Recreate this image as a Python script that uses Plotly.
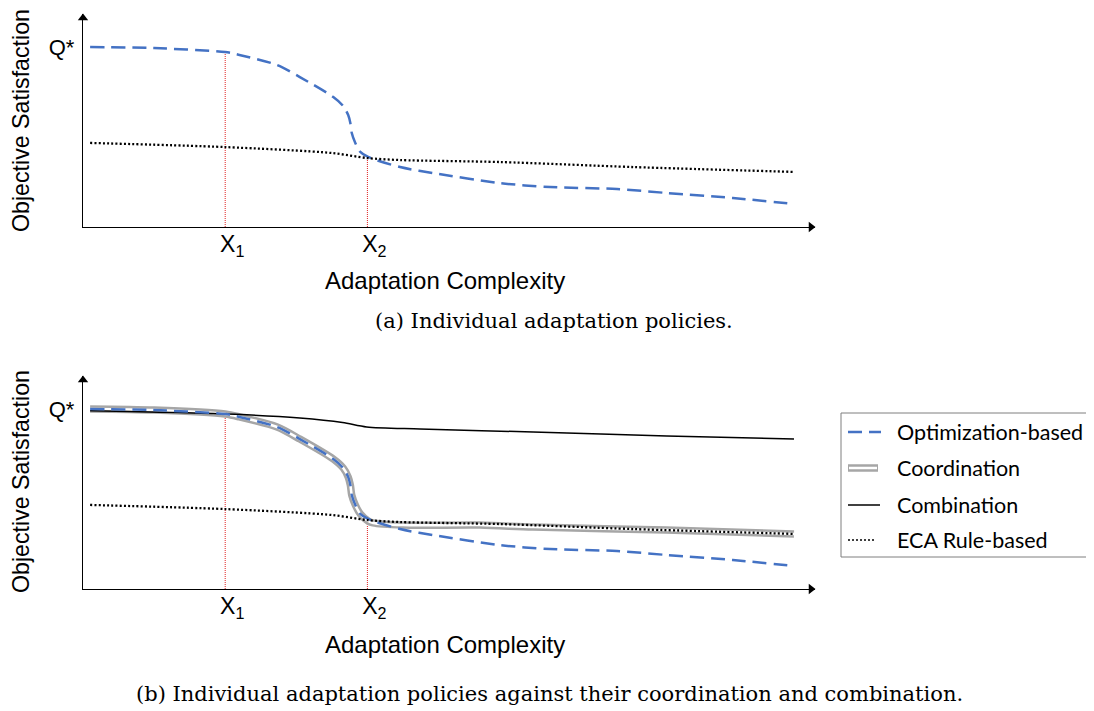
import plotly.graph_objects as go

# Browser page has an 8px body margin; the figure is sized to fill the rest of the window.
W, H = 1094, 711
OFF = 8
FW, FH = W - OFF, H - OFF

# ---------------- data ----------------
# x: adaptation complexity (0 = origin, 100 = end of curves); y: objective satisfaction (Q* = 1)
opt_x = [1, 10, 20, 22, 27.3, 30.5, 35.2, 36.6, 37.3, 37.6, 37.8, 38.3, 39.0, 40.1, 44.6, 49.2, 58.6, 65.7, 75.1, 82.1, 91.4, 100]
opt_y = [1.0, 0.994, 0.972, 0.956, 0.90, 0.833, 0.722, 0.672, 0.622, 0.578, 0.522, 0.467, 0.417, 0.389, 0.333, 0.30, 0.244, 0.222, 0.211, 0.189, 0.161, 0.128]

eca_x = [1, 20, 35, 40, 44.6, 58.6, 77.4, 100]
eca_y = [0.467, 0.444, 0.411, 0.383, 0.372, 0.361, 0.333, 0.306]

comb_x = [1, 20.3, 30.5, 36.5, 39.9, 47.4, 63.3, 82.1, 100]
comb_y = [0.99, 0.972, 0.95, 0.925, 0.90, 0.889, 0.872, 0.85, 0.833]

coord_x = [1, 10, 20, 22, 27.3, 30.5, 35.2, 36.6, 37.3, 37.6, 37.8, 38.3, 39.0, 40.1, 40.8, 45, 55.8, 63.3, 82, 100]
coord_y = [1.0, 0.994, 0.972, 0.956, 0.90, 0.833, 0.722, 0.672, 0.622, 0.578, 0.522, 0.467, 0.417, 0.378, 0.367, 0.355, 0.355, 0.344, 0.328, 0.306]

x_marks = [20, 40]
x_mark_labels = ["X<sub>1</sub>", "X<sub>2</sub>"]
mark_heights_a = [0.972, 0.387]
mark_heights_b = [0.975, 0.383]
q_star = 1.0
q_label = "Q*"

series_names = ["Optimization-based", "Coordination", "Combination", "ECA Rule-based"]
x_title = "Adaptation Complexity"
y_title = "Objective Satisfaction"
caption_a = "(a) Individual adaptation policies."
caption_b = "(b) Individual adaptation policies against their coordination and combination."

# ---------------- styles ----------------
BLUE = "#4472C4"
GRAY = "#A6A6A6"
RED = "#E02020"
SANS = "Liberation Sans, Arial, sans-serif"
SERIF = "DejaVu Serif, serif"
LEG_FONT = "Lato, sans-serif"


def px(p):
    return (p - OFF) / FW


def py(p):
    return 1 - (p - OFF) / FH


X_MAX = 732 / 7.11     # axis arrow tip
Y_MAX = 213 / 180.0

fig = go.Figure()


def add_panel(xa, ya, with_combo, heights):
    for xm, hm in zip(x_marks, heights):
        fig.add_trace(go.Scatter(x=[xm, xm], y=[0, hm], mode="lines",
                                 line=dict(color=RED, width=1, dash="1px,1px"),
                                 xaxis=xa, yaxis=ya, showlegend=False, hoverinfo="skip"))
    if with_combo:
        fig.add_trace(go.Scatter(x=coord_x, y=coord_y, mode="lines", line_shape="spline",
                                 line=dict(color=GRAY, width=7.5, smoothing=0.8),
                                 xaxis=xa, yaxis=ya, showlegend=False, name=series_names[1]))
        fig.add_trace(go.Scatter(x=coord_x, y=coord_y, mode="lines", line_shape="spline",
                                 line=dict(color="white", width=2.5, smoothing=0.8),
                                 xaxis=xa, yaxis=ya, showlegend=False, hoverinfo="skip"))
        fig.add_trace(go.Scatter(x=comb_x, y=comb_y, mode="lines", line_shape="spline",
                                 line=dict(color="black", width=1.5, smoothing=0.8),
                                 xaxis=xa, yaxis=ya, showlegend=False, name=series_names[2]))
    fig.add_trace(go.Scatter(x=opt_x, y=opt_y, mode="lines", line_shape="spline",
                             line=dict(color=BLUE, width=2.5, dash="14px,7px", smoothing=0.8),
                             xaxis=xa, yaxis=ya, showlegend=False, name=series_names[0]))
    fig.add_trace(go.Scatter(x=eca_x, y=eca_y, mode="lines", line_shape="spline",
                             line=dict(color="black", width=2.3, dash="2px,2.2px", smoothing=0.8),
                             xaxis=xa, yaxis=ya, showlegend=False, name=series_names[3]))
    # arrowheads at the axis ends
    fig.add_trace(go.Scatter(x=[X_MAX - 4 / 7.11], y=[0], mode="markers",
                             marker=dict(symbol="triangle-right", size=9, color="black"),
                             cliponaxis=False, xaxis=xa, yaxis=ya, showlegend=False, hoverinfo="skip"))
    fig.add_trace(go.Scatter(x=[0], y=[Y_MAX - 4 / 180.0], mode="markers",
                             marker=dict(symbol="triangle-up", size=9, color="black"),
                             cliponaxis=False, xaxis=xa, yaxis=ya, showlegend=False, hoverinfo="skip"))


add_panel("x", "y", False, mark_heights_a)
add_panel("x2", "y2", True, mark_heights_b)

xcommon = dict(range=[0, X_MAX], showgrid=False, zeroline=False,
               showline=True, linecolor="black", linewidth=1.3,
               tickvals=x_marks, ticktext=x_mark_labels, ticks="",
               tickfont=dict(family=SANS, size=23, color="black"), ticklabelshift=7,
               ticklabelstandoff=-4)
ycommon = dict(range=[0, Y_MAX], showgrid=False, zeroline=False,
               showline=True, linecolor="black", linewidth=1.3,
               tickvals=[q_star], ticktext=[q_label], ticks="",
               tickfont=dict(family=SANS, size=22, color="black"), ticklabelstandoff=3)

fig.update_layout(
    width=FW, height=FH,
    margin=dict(l=0, r=0, t=0, b=0),
    paper_bgcolor="white", plot_bgcolor="white",
    showlegend=False,
    xaxis=dict(domain=[px(83), px(815)], anchor="y", **xcommon),
    yaxis=dict(domain=[py(227), py(14)], anchor="x", **ycommon),
    xaxis2=dict(domain=[px(83), px(815)], anchor="y2", **xcommon),
    yaxis2=dict(domain=[py(589), py(376)], anchor="x2", **ycommon),
)

annotations = []
for yc in (121, 482):
    annotations.append(dict(x=px(21), y=py(yc), xref="paper", yref="paper", text=y_title,
                            textangle=-90, showarrow=False, xanchor="center", yanchor="middle",
                            borderpad=0, font=dict(family=SANS, size=23.2, color="black")))
for yc in (280, 644):
    annotations.append(dict(x=px(445), y=py(yc), xref="paper", yref="paper", text=x_title,
                            showarrow=False, xanchor="center", yanchor="middle",
                            font=dict(family=SANS, size=24, color="black")))

annotations.append(dict(x=px(554), y=py(321), xref="paper", yref="paper", text=caption_a,
                        showarrow=False, xanchor="center", yanchor="middle",
                        font=dict(family=SERIF, size=21, color="black")))
annotations.append(dict(x=px(549), y=py(694), xref="paper", yref="paper", text=caption_b,
                        showarrow=False, xanchor="center", yanchor="middle",
                        font=dict(family=SERIF, size=21, color="black")))

# legend box and keys
shapes = [dict(type="rect", xref="paper", yref="paper", x0=px(841), x1=px(1092),
               y0=py(557), y1=py(413), line=dict(color="#7F7F7F", width=1), fillcolor="white",
               layer="below")]
leg_y = [432, 468, 505, 540]
shapes.append(dict(type="line", xref="paper", yref="paper", x0=px(848), x1=px(881),
                   y0=py(leg_y[0]), y1=py(leg_y[0]), line=dict(color=BLUE, width=2.5, dash="14px,7px")))
shapes.append(dict(type="line", xref="paper", yref="paper", x0=px(848), x1=px(878),
                   y0=py(leg_y[1]), y1=py(leg_y[1]), line=dict(color=GRAY, width=7.5)))
shapes.append(dict(type="line", xref="paper", yref="paper", x0=px(849), x1=px(877),
                   y0=py(leg_y[1]), y1=py(leg_y[1]), line=dict(color="white", width=2.5)))
shapes.append(dict(type="line", xref="paper", yref="paper", x0=px(848), x1=px(880),
                   y0=py(leg_y[2]), y1=py(leg_y[2]), line=dict(color="black", width=1.5)))
shapes.append(dict(type="line", xref="paper", yref="paper", x0=px(848), x1=px(876),
                   y0=py(leg_y[3]), y1=py(leg_y[3]), line=dict(color="black", width=1.5, dash="2px,2px")))
for name, ly in zip(series_names, leg_y):
    annotations.append(dict(x=px(895), y=py(ly), xref="paper", yref="paper", text=name,
                            showarrow=False, xanchor="left", yanchor="middle",
                            font=dict(family=LEG_FONT, size=21.5, color="black")))

fig.update_layout(annotations=annotations, shapes=shapes)

fig.write_html("out.html")
